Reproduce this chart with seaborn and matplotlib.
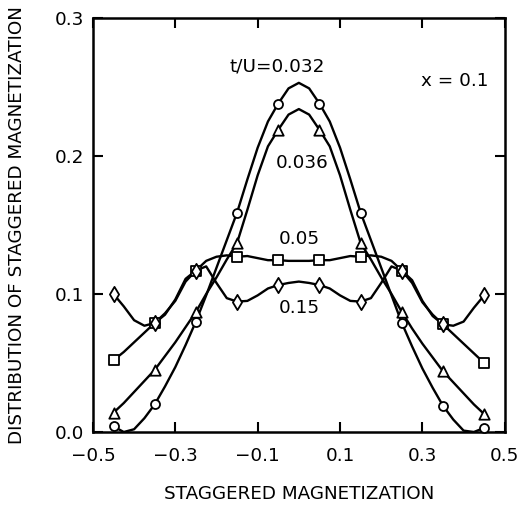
import numpy as np
import pandas as pd
import matplotlib
matplotlib.use("Agg")
import matplotlib.pyplot as plt
import seaborn as sns

# ---- data ----
x_curve = [-0.45, -0.425, -0.4, -0.375, -0.35, -0.325, -0.3, -0.275, -0.25, -0.225,
           -0.2, -0.175, -0.15, -0.125, -0.1, -0.075, -0.05, -0.025, 0.0,
           0.025, 0.05, 0.075, 0.1, 0.125, 0.15, 0.175, 0.2, 0.225, 0.25,
           0.275, 0.3, 0.325, 0.35, 0.375, 0.4, 0.425, 0.45]

curve_032 = [0.004, 0.000, 0.002, 0.010, 0.020, 0.033, 0.047, 0.063, 0.080, 0.099,
             0.119, 0.139, 0.159, 0.183, 0.206, 0.225, 0.238, 0.249, 0.253,
             0.249, 0.238, 0.225, 0.206, 0.183, 0.159, 0.139, 0.119, 0.099, 0.079,
             0.062, 0.046, 0.032, 0.019, 0.009, 0.001, 0.000, 0.003]
curve_036 = [0.014, 0.021, 0.029, 0.037, 0.045, 0.055, 0.065, 0.076, 0.087, 0.100,
             0.112, 0.125, 0.137, 0.161, 0.186, 0.207, 0.219, 0.230, 0.234,
             0.230, 0.219, 0.207, 0.186, 0.161, 0.137, 0.125, 0.112, 0.100, 0.087,
             0.075, 0.064, 0.054, 0.044, 0.036, 0.028, 0.020, 0.013]
curve_05 = [0.052, 0.058, 0.065, 0.072, 0.079, 0.086, 0.095, 0.109, 0.117, 0.124,
            0.127, 0.128, 0.127, 0.1275, 0.126, 0.1245, 0.1245, 0.124, 0.124,
            0.124, 0.1245, 0.1245, 0.126, 0.1275, 0.127, 0.128, 0.127, 0.124, 0.117,
            0.108, 0.094, 0.085, 0.078, 0.071, 0.064, 0.057, 0.050]
curve_15 = [0.100, 0.091, 0.081, 0.077, 0.079, 0.085, 0.096, 0.111, 0.117, 0.120,
            0.108, 0.097, 0.0945, 0.095, 0.099, 0.104, 0.1065, 0.108, 0.109,
            0.108, 0.1065, 0.104, 0.099, 0.095, 0.0945, 0.097, 0.108, 0.120, 0.117,
            0.110, 0.095, 0.084, 0.078, 0.077, 0.080, 0.090, 0.099]

x_mark = [-0.45, -0.35, -0.25, -0.15, -0.05, 0.05, 0.15, 0.25, 0.35, 0.45]
mark_032 = [0.004, 0.020, 0.080, 0.159, 0.238, 0.238, 0.159, 0.079, 0.019, 0.003]
mark_036 = [0.014, 0.045, 0.087, 0.137, 0.219, 0.219, 0.137, 0.087, 0.044, 0.013]
mark_05 = [0.052, 0.079, 0.117, 0.127, 0.1245, 0.1245, 0.127, 0.117, 0.078, 0.050]
mark_15 = [0.100, 0.079, 0.117, 0.0945, 0.1065, 0.1065, 0.0945, 0.117, 0.078, 0.099]

series_names = ["0.032", "0.036", "0.05", "0.15"]
series_markers = ["o", "^", "s", "d"]
x_ticks = [-0.5, -0.3, -0.1, 0.1, 0.3, 0.5]
x_ticklabels = ["\u22120.5", "\u22120.3", "\u22120.1", "0.1", "0.3", "0.5"]
y_ticks = [0.0, 0.1, 0.2, 0.3]
y_ticklabels = ["0.0", "0.1", "0.2", "0.3"]

# ---- styling ----
sns.set_theme(style="ticks")
plt.rcParams["font.family"] = ["DejaVu Sans"]
plt.rcParams["text.color"] = "black"
plt.rcParams["axes.labelcolor"] = "black"
plt.rcParams["xtick.color"] = "black"
plt.rcParams["ytick.color"] = "black"
FS = 13.2

fig = plt.figure(figsize=(5.22, 5.08), dpi=100)
ax = fig.add_axes([0.178, 0.1496, 0.789, 0.815])

curves = [curve_032, curve_036, curve_05, curve_15]
marks = [mark_032, mark_036, mark_05, mark_15]
msizes = [42, 56, 46, 60]

for name, cy, my, mk, ms in zip(series_names, curves, marks, series_markers, msizes):
    dfc = pd.DataFrame({"x": x_curve, "y": cy})
    sns.lineplot(data=dfc, x="x", y="y", ax=ax, color="black", lw=1.7,
                 sort=False, estimator=None, zorder=2)
    dfm = pd.DataFrame({"x": x_mark, "y": my})
    sns.scatterplot(data=dfm, x="x", y="y", ax=ax, marker=mk, s=ms,
                    facecolor="white", edgecolor="black", linewidth=1.3,
                    zorder=3, clip_on=False)

ax.set_xlim(-0.5, 0.5)
ax.set_ylim(0.0, 0.3)
ax.set_xticks(x_ticks)
ax.set_xticklabels(x_ticklabels)
ax.set_yticks(y_ticks)
ax.set_yticklabels(y_ticklabels)
ax.tick_params(direction="in", length=7.5, width=1.5, top=True, right=True,
               labelsize=FS, colors="black", labelcolor="black")
ax.tick_params(axis="x", pad=11)
ax.tick_params(axis="y", pad=6)
for sp in ax.spines.values():
    sp.set_linewidth(1.8)
    sp.set_color("black")

ax.set_xlabel("STAGGERED MAGNETIZATION", fontsize=FS, labelpad=14, color="black")
ax.set_ylabel("DISTRIBUTION OF STAGGERED MAGNETIZATION", fontsize=FS, labelpad=21,
              color="black")

ax.text(-0.053, 0.265, "t/U=0.032", fontsize=FS, ha="center", va="center")
ax.text(0.007, 0.195, "0.036", fontsize=FS, ha="center", va="center")
ax.text(0.002, 0.1396, "0.05", fontsize=FS, ha="center", va="center")
ax.text(0.002, 0.0896, "0.15", fontsize=FS, ha="center", va="center")
ax.text(0.379, 0.254, "x = 0.1", fontsize=FS, ha="center", va="center")

fig.savefig("out.png", dpi=100)
